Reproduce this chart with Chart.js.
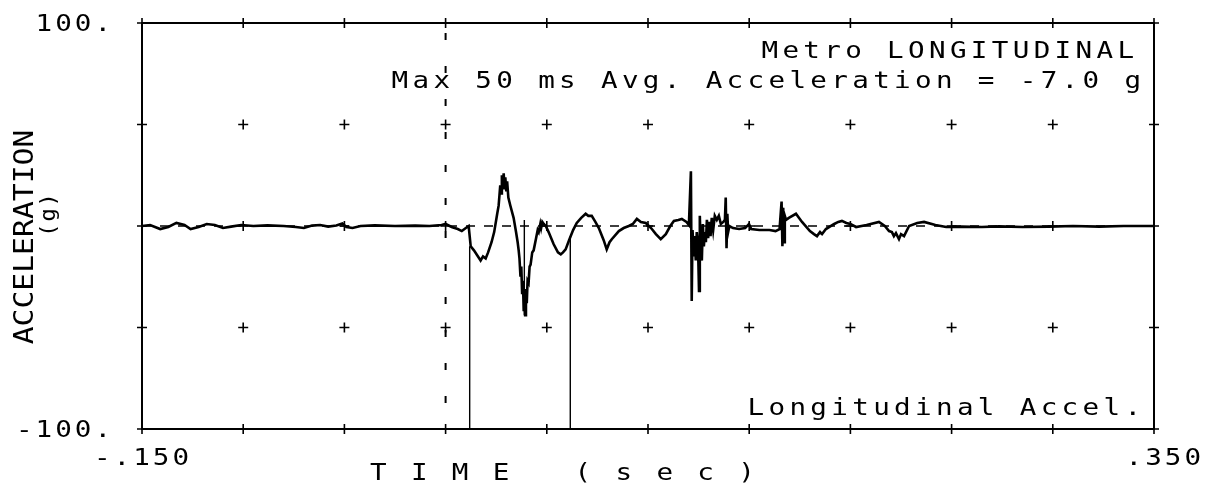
<!DOCTYPE html>
<html><head><meta charset="utf-8">
<script src="https://cdn.jsdelivr.net/npm/chart.js@4"></script>
<style>html,body{margin:0;padding:0;background:#fff}canvas{display:block}</style>
</head><body>
<canvas id="c" width="1219" height="489"></canvas>
<script>
// ---- data (time in seconds, acceleration in g) ----
const timeSec = [
 -0.150,-0.146,-0.141,-0.137,-0.133,-0.129,-0.126,-0.122,-0.118,-0.114,
 -0.110,-0.106,-0.101,-0.095,-0.088,-0.080,-0.074,-0.070,-0.066,-0.062,
 -0.058,-0.054,-0.051,-0.049,-0.046,-0.042,-0.035,-0.025,-0.015,-0.008,
 -0.002,0.000,0.003,0.006,0.008,0.010,0.0114,0.0124,0.014,0.0160,
 0.0173,0.0185,0.0198,0.021,0.0227,0.024,0.0255,0.0262,0.0266,0.0270,
 0.0274,0.0278,0.0282,0.0287,0.0291,0.0295,0.0300,0.0304,0.0310,0.0320,
 0.0336,0.0348,0.0356,0.0361,0.0365,0.0370,0.0374,0.0378,0.0382,0.0386,
 0.0390,0.0393,0.0397,0.0401,0.0405,0.0410,0.0415,0.0420,0.0428,0.0435,
 0.0447,0.0455,0.0460,0.0468,0.0472,0.0478,0.0485,0.0495,0.0509,0.0534,
 0.0555,0.0569,0.0580,0.0593,0.0610,0.0630,0.0648,0.0670,0.0692,0.0705,
 0.0722,0.0740,0.0757,0.0781,0.0796,0.0810,0.0821,0.0856,0.0880,0.0905,
 0.0925,0.0945,0.0965,0.0989,0.1015,0.1039,0.1063,0.1088,0.1110,0.1128,
 0.1150,0.1167,0.1190,0.1202,0.1212,0.1216,0.1220,0.1226,0.1231,0.1236,
 0.1241,0.1247,0.1252,0.1256,0.1261,0.1266,0.1271,0.1276,0.1281,0.1286,
 0.1291,0.1297,0.1303,0.1309,0.1315,0.1322,0.1330,0.1340,0.1350,0.1360,
 0.1372,0.1380,0.1384,0.1388,0.1392,0.1396,0.1402,0.1420,0.1450,0.1480,
 0.1499,0.1510,0.1550,0.1600,0.1630,0.1650,0.1660,0.1664,0.1668,0.1672,
 0.1676,0.1682,0.1696,0.1731,0.1761,0.1800,0.1820,0.1835,0.1850,0.1860,
 0.1879,0.1920,0.1940,0.1958,0.1980,0.2000,0.2028,0.2080,0.2141,0.2170,
 0.2191,0.2205,0.2215,0.2225,0.2240,0.2250,0.2265,0.2290,0.2330,0.2364,
 0.2420,0.2473,0.2550,0.2650,0.2735,0.2850,0.2982,0.3100,0.3229,0.3350,
 0.3500
];
const accelG = [
 0,0.5,-1.5,-0.5,1.5,0.5,-1.5,-0.5,1,0.5,
 -1,-0.3,0.5,0,0.3,0,-0.5,-1,0.2,0.5,
 -0.3,0.2,1.2,-0.5,-1,0,0.3,0,0.2,0,
 0.5,1,-0.5,-1.5,-2.5,-1,0,-10,-12,-15,
 -17,-15,-16,-13,-8,-3,6,10,15,20,
 16,25,19,26,18,24,17,22,14,10,
 4,-3,-8,-12,-16,-25,-20,-33,-27,-42,
 -34,-44,-31,-38,-27,-28,-20,-19,-13,-12,
 -6,-2,-3,1,-1,2,1,0,-3,-9,
 -13,-14,-13,-11.5,-7,-2,1.5,4,6,5,
 5,2,-1,-7,-11.5,-8,-6.5,-2.5,-1,0,
 1,3.5,2,1.5,-1,-4,-6.5,-4,0,2.5,
 3,3.5,2,0.5,27,-37,-2,-15,-5,-17,
 -3,-9,-32,5,-12,-17,1,-10,-3,-8,
 3,-6,2,-5,4,-2,5,3,5,1,
 2,3,14,-11,6,-3,0,-1,-1.5,-1,
 1,-1.5,-2,-2,-2.5,-1.5,12,-10,9,-8,
 5,3,4,6,2,-2.5,-4,-5,-3,-4,
 -1.5,1,2,2.5,1.5,1,-0.5,0.5,2,0,
 -2.5,-3,-5,-3.5,-6.5,-4,-5,0,1.5,2,
 0.5,-0.5,-0.3,-0.5,-0.2,-0.5,-0.3,0,-0.3,0,
 0
];
// thin single-sample dropouts
const dropoutTime = [0.0119, 0.0389, 0.0616];
const dropoutFrom = [-10, 3, -5];
const dropoutTo   = [-100, -44, -100];

// ---- axes and text ----
const xTickValues = [-0.15,-0.10,-0.05,0,0.05,0.10,0.15,0.20,0.25,0.30,0.35];
const xTickText   = ['-.150','','','','','','','','','','.350'];
const yTickValues = [-100,-50,0,50,100];
const yTickText   = ['-100.','','','','100.'];
const titleText = 'Metro LONGITUDINAL';
const subtitleText = 'Max 50 ms Avg. Acceleration = -7.0 g';
const channelText = 'Longitudinal Accel.';
const xTitle = 'T I M E   ( s e c )';
const yTitle = 'ACCELERATION';
const yUnit = '(g)';

const FONT = '"DejaVu Sans Mono", monospace';

const mainData = timeSec.map((t,i)=>({x:t,y:accelG[i]}));
const dropData = [];
dropoutTime.forEach((t,i)=>{dropData.push({x:t,y:dropoutFrom[i]},{x:t,y:dropoutTo[i]},{x:t,y:null});});

function txt(c, s, x, y, o){
  c.save(); c.translate(x,y); if(o.rot) c.rotate(o.rot); c.scale(o.stretch||1,1);
  c.font = o.size+'px '+FONT; c.letterSpacing = (o.ls||0)+'px';
  c.textAlign='left'; c.textBaseline='alphabetic';
  const w = c.measureText(s).width - (o.ls||0);
  const off = o.align==='right' ? -w : (o.align==='center' ? -w/2 : 0);
  c.fillText(s, off, 0); c.restore();
}
const STD = {size:23, stretch:1.2, ls:3.6};
const TICK = {size:23, stretch:1.2, ls:2.5};

const decor = {
  id:'decor',
  beforeDraw(chart){
    const c=chart.ctx; c.save(); c.fillStyle='#fff'; c.fillRect(0,0,chart.width,chart.height); c.restore();
  },
  beforeDatasetsDraw(chart){
    const c=chart.ctx, a=chart.chartArea, xs=chart.scales.x, ys=chart.scales.y;
    c.save(); c.strokeStyle='#000';
    const x0=xs.getPixelForValue(0), y0=ys.getPixelForValue(0);
    c.lineWidth=2; c.setLineDash([7,26]); c.lineDashOffset=-10;
    c.beginPath(); c.moveTo(x0,a.top); c.lineTo(x0,a.bottom); c.stroke();
    c.lineWidth=1.5; c.setLineDash([9,9]); c.lineDashOffset=0;
    c.beginPath(); c.moveTo(a.left,y0); c.lineTo(a.right,y0); c.stroke();
    c.restore();
  },
  afterDatasetsDraw(chart){
    const c=chart.ctx, a=chart.chartArea, xs=chart.scales.x, ys=chart.scales.y;
    c.save(); c.strokeStyle='#000'; c.setLineDash([]);
    c.lineWidth=2; c.strokeRect(a.left,a.top,a.right-a.left,a.bottom-a.top);
    c.lineWidth=1.6;
    xTickValues.forEach(xv=>{ yTickValues.forEach(yv=>{
      const px=xs.getPixelForValue(xv), py=ys.getPixelForValue(yv);
      const h=5;
      c.beginPath(); c.moveTo(px-h,py); c.lineTo(px+h,py); c.moveTo(px,py-h); c.lineTo(px,py+h); c.stroke();
    });});
    c.restore();
  },
  afterDraw(chart){
    const c=chart.ctx, a=chart.chartArea, xs=chart.scales.x, ys=chart.scales.y;
    c.save(); c.fillStyle='#000';
    // tick labels
    yTickValues.forEach((v,i)=>{ if(yTickText[i]) txt(c, yTickText[i], a.left-31, ys.getPixelForValue(v)+8, Object.assign({align:'right'},TICK)); });
    xTickValues.forEach((v,i)=>{ if(xTickText[i]) txt(c, xTickText[i], xs.getPixelForValue(v)+47, a.bottom+36, Object.assign({align:'right'},TICK)); });
    // annotations
    txt(c, titleText, a.right-20, a.top+35, Object.assign({align:'right'},STD));
    txt(c, subtitleText, a.right-13, a.top+65, Object.assign({align:'right'},STD));
    txt(c, channelText, a.right-13, a.bottom-14, Object.assign({align:'right'},STD));
    txt(c, xTitle, a.left+228, a.bottom+51, {size:23, stretch:1.2, ls:3.2, align:'left'});
    // y title (rotated)
    txt(c, yTitle, 33, 237, {size:27, stretch:1.1, ls:0, align:'center', rot:-Math.PI/2});
    txt(c, yUnit, 55, 215, {size:22, stretch:1.0, ls:2, align:'center', rot:-Math.PI/2});
    c.restore();
  }
};

new Chart(document.getElementById('c'), {
  type:'line',
  data:{ datasets:[
    {data:mainData, borderColor:'#000', borderWidth:2.6, pointRadius:0, tension:0, fill:false},
    {data:dropData, borderColor:'#000', borderWidth:1.4, pointRadius:0, tension:0, fill:false, spanGaps:false}
  ]},
  options:{
    responsive:false, animation:false, devicePixelRatio:1,
    layout:{padding:{left:0, top:23, right:65, bottom:0}},
    plugins:{legend:{display:false}, tooltip:{enabled:false}},
    scales:{
      x:{type:'linear', min:-0.15, max:0.35,
         afterBuildTicks(s){ s.ticks = xTickValues.map(v=>({value:v})); },
         afterFit(s){ s.height = 60; },
         grid:{display:false}, border:{display:false}, ticks:{display:false}},
      y:{type:'linear', min:-100, max:100,
         afterBuildTicks(s){ s.ticks = yTickValues.map(v=>({value:v})); },
         afterFit(s){ s.width = 142; },
         grid:{display:false}, border:{display:false}, ticks:{display:false}}
    }
  },
  plugins:[decor]
});
</script>
</body></html>
